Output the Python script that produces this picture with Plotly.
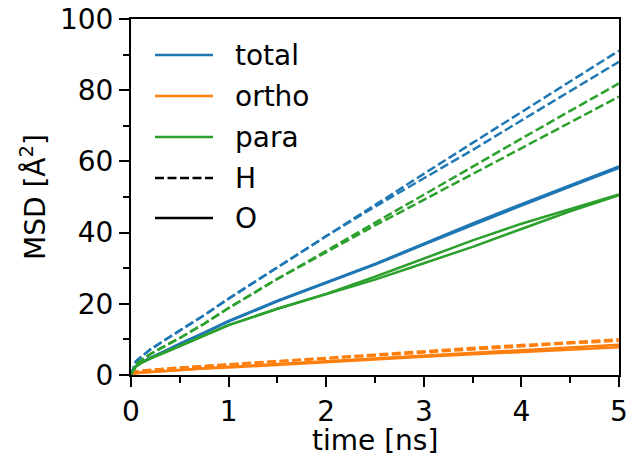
import plotly.graph_objects as go

# time [ns]
t = [0, 0.05, 0.1, 0.2, 0.35, 0.5, 0.75, 1, 1.5, 2, 2.5, 3, 3.5, 4, 4.5, 5]

# H (dashed)
total_H_a = [0, 3.8, 5.0, 7.2, 9.9, 12.4, 16.8, 21.5, 30.3, 39.1, 47.8, 56.5, 65.2, 73.8, 82.5, 91.1]
total_H_b = [0, 3.8, 5.0, 7.2, 9.9, 12.4, 16.8, 21.4, 30.1, 39.0, 47.3, 55.2, 63.2, 71.5, 79.8, 88.0]
para_H_a = [0, 3.0, 4.0, 5.9, 8.2, 10.4, 14.4, 18.8, 27.0, 34.9, 42.8, 50.8, 58.6, 66.4, 74.2, 81.9]
para_H_b = [0, 3.0, 4.0, 5.9, 8.2, 10.4, 14.4, 18.8, 27.0, 34.6, 42.0, 49.2, 56.5, 63.8, 71.0, 78.2]
ortho_H_a = [0, 1.0, 1.2, 1.5, 1.8, 2.1, 2.6, 3.0, 3.9, 4.8, 5.8, 6.7, 7.6, 8.4, 9.2, 10.0]
ortho_H_b = [0, 0.9, 1.1, 1.4, 1.7, 2.0, 2.5, 2.9, 3.8, 4.6, 5.5, 6.4, 7.3, 8.1, 8.9, 9.6]

# O (solid)
total_O_a = [0, 2.5, 3.4, 4.9, 6.8, 8.8, 11.9, 15.2, 20.9, 26.0, 31.2, 36.9, 42.6, 48.0, 53.3, 58.6]
total_O_b = [0, 2.5, 3.4, 4.8, 6.7, 8.7, 11.8, 15.0, 20.7, 25.8, 31.0, 36.6, 42.2, 47.6, 52.9, 58.2]
para_O_a = [0, 2.4, 3.3, 4.7, 6.4, 8.2, 11.1, 14.0, 18.6, 22.8, 27.6, 32.8, 37.8, 42.5, 46.7, 50.7]
para_O_b = [0, 2.4, 3.3, 4.7, 6.4, 8.2, 11.1, 14.0, 18.6, 22.6, 26.8, 31.4, 36.0, 41.0, 46.0, 50.5]
ortho_O_a = [0, 0.5, 0.7, 0.9, 1.2, 1.5, 1.9, 2.3, 3.1, 3.9, 4.7, 5.5, 6.3, 7.0, 7.8, 8.5]
ortho_O_b = [0, 0.5, 0.6, 0.8, 1.1, 1.4, 1.8, 2.1, 2.9, 3.6, 4.3, 5.1, 5.8, 6.5, 7.2, 7.8]

x_ticks = [0, 1, 2, 3, 4, 5]
y_ticks = [0, 20, 40, 60, 80, 100]
x_title = "time [ns]"
y_title = "MSD [Å<sup>2</sup>]"

DASH = "9px,3.5px"
legend_labels = ["total", "ortho", "para", "H", "O"]
legend_colors = ["#1f77b4", "#ff7f0e", "#2ca02c", "black", "black"]
legend_dashes = ["solid", "solid", "solid", DASH, "solid"]

BLUE, ORANGE, GREEN = "#1f77b4", "#ff7f0e", "#2ca02c"
FONT = "DejaVu Sans"
FS = 28
LW = 2.5

series = [
    (total_O_a, BLUE, "solid"), (total_O_b, BLUE, "solid"),
    (ortho_O_a, ORANGE, "solid"), (ortho_O_b, ORANGE, "solid"),
    (para_O_a, GREEN, "solid"), (para_O_b, GREEN, "solid"),
    (total_H_a, BLUE, DASH), (total_H_b, BLUE, DASH),
    (ortho_H_a, ORANGE, DASH), (ortho_H_b, ORANGE, DASH),
    (para_H_a, GREEN, DASH), (para_H_b, GREEN, DASH),
]

fig = go.Figure()
for ys, col, dash in series:
    fig.add_trace(go.Scatter(x=t, y=ys, mode="lines", showlegend=False,
                             line=dict(color=col, width=LW, dash=dash)))

# manual legend (no frame), in paper coordinates
L, R, T, B = 131, 19, 19, 82
W, H = 638, 457
pw, ph = W - L - R, H - T - B
ys_px = [55, 96, 137, 178, 218]
for lab, col, dash, ypx in zip(legend_labels, legend_colors, legend_dashes, ys_px):
    yp = (H - B - ypx) / ph
    fig.add_shape(type="line", xref="paper", yref="paper",
                  x0=(155 - L) / pw, x1=(213 - L) / pw, y0=yp, y1=yp,
                  line=dict(color=col, width=LW, dash=dash))
    fig.add_annotation(xref="paper", yref="paper", x=(233 - L) / pw, y=yp,
                       text=lab, showarrow=False, xanchor="left", yanchor="middle",
                       font=dict(family=FONT, size=FS, color="black"))

# axis titles as annotations for exact placement
fig.add_annotation(xref="paper", yref="paper", x=0.5, y=(H - B - 440) / ph,
                   text=x_title, showarrow=False, xanchor="center", yanchor="middle",
                   font=dict(family=FONT, size=FS, color="black"))
fig.add_annotation(xref="paper", yref="paper", x=(33 - L) / pw, y=0.5,
                   text=y_title, showarrow=False, xanchor="center", yanchor="middle",
                   textangle=-90, font=dict(family=FONT, size=FS, color="black"))

axis_common = dict(
    showline=True, linecolor="black", linewidth=2, mirror=True, automargin=False,
    showgrid=False, zeroline=False, ticks="outside", ticklen=10, tickwidth=2,
    tickcolor="black", tickfont=dict(family=FONT, size=FS, color="black"),
)
fig.update_xaxes(range=[0, 5], tickvals=x_ticks, ticktext=[str(v) for v in x_ticks],
                 minor=dict(dtick=0.5, ticklen=6, tickwidth=1.5, ticks="outside", tickcolor="black"),
                 **axis_common)
fig.update_yaxes(range=[0, 100], tickvals=y_ticks, ticktext=[str(v) for v in y_ticks],
                 minor=dict(dtick=10, ticklen=6, tickwidth=1.5, ticks="outside", tickcolor="black"),
                 **axis_common)
fig.update_layout(width=W, height=H, margin=dict(l=L, r=R, t=T, b=B),
                  plot_bgcolor="white", paper_bgcolor="white",
                  font=dict(family=FONT, size=FS, color="black"), showlegend=False)
fig.write_html("out.html", config={"displayModeBar": False})

with open("out.html", encoding="utf-8") as f:
    html = f.read()
html = html.replace("<head>", "<head><style>html,body{margin:0;padding:0;overflow:hidden;}</style>", 1)
with open("out.html", "w", encoding="utf-8") as f:
    f.write(html)
